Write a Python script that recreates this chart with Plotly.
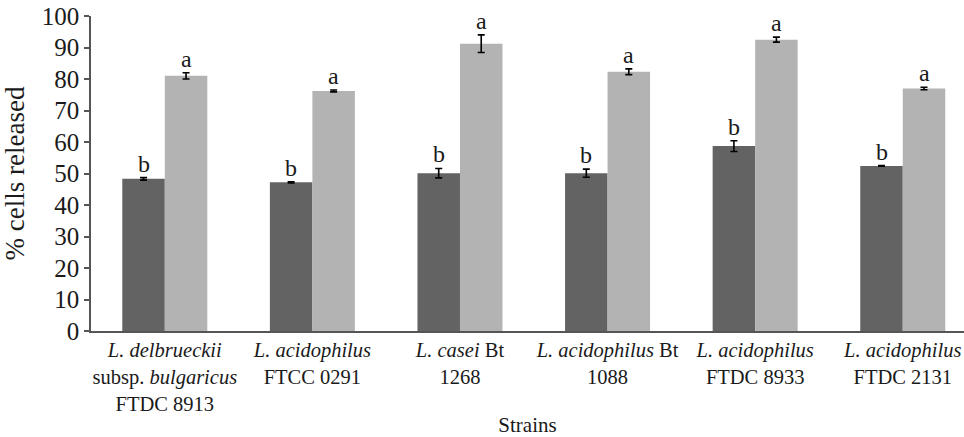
import plotly.graph_objects as go

strains = [
    "<i>L. delbrueckii</i><br>subsp. <i>bulgaricus</i><br>FTDC 8913",
    "<i>L. acidophilus</i><br>FTCC 0291",
    "<i>L. casei</i> Bt<br>1268",
    "<i>L. acidophilus</i> Bt<br>1088",
    "<i>L. acidophilus</i><br>FTDC 8933",
    "<i>L. acidophilus</i><br>FTDC 2131",
]
dark_vals = [48.3, 47.2, 50.1, 50.1, 58.7, 52.4]
dark_err = [0.4, 0.2, 1.5, 1.3, 1.7, 0.1]
dark_lbl = ["b"] * 6
light_vals = [81.0, 76.2, 91.2, 82.3, 92.5, 77.0]
light_err = [1.0, 0.3, 2.8, 0.9, 0.8, 0.4]
light_lbl = ["a"] * 6

FONT = "Times New Roman, Liberation Serif, Tinos, DejaVu Serif, serif"
TXT = "#1a1a1a"

fig = go.Figure()
fig.add_trace(go.Bar(x=strains, y=dark_vals, marker_color="#636363", marker_line_width=0,
                     error_y=dict(type="data", array=dark_err, color="black", thickness=1.6, width=3.5),
                     name="dark"))
fig.add_trace(go.Bar(x=strains, y=light_vals, marker_color="#b3b3b3", marker_line_width=0,
                     error_y=dict(type="data", array=light_err, color="black", thickness=1.6, width=3.5),
                     name="light"))

bw = 0.576 / 2
for i in range(len(strains)):
    fig.add_annotation(x=i - bw / 2, y=dark_vals[i] + dark_err[i], text=dark_lbl[i],
                       showarrow=False, yanchor="bottom", xref="x", yref="y",
                       font=dict(family=FONT, size=24, color=TXT), yshift=-1)
    fig.add_annotation(x=i + bw / 2, y=light_vals[i] + light_err[i], text=light_lbl[i],
                       showarrow=False, yanchor="bottom", xref="x", yref="y",
                       font=dict(family=FONT, size=24, color=TXT), yshift=-1)

fig.update_layout(
    width=964, height=437,
    margin=dict(l=91, r=0, t=16, b=106),
    plot_bgcolor="white", paper_bgcolor="white",
    barmode="group", bargap=0.424, bargroupgap=0,
    showlegend=False,
    font=dict(family=FONT, size=20, color=TXT),
)
fig.update_xaxes(
    type="category", range=[-0.5, 5.415], automargin=False,
    showline=True, linecolor="#555", linewidth=1.5, ticks="", showgrid=False,
    tickfont=dict(family=FONT, size=20.5, color=TXT),
    title=dict(text="Strains", font=dict(family=FONT, size=21, color=TXT), standoff=9),
)
fig.update_yaxes(
    range=[0, 100], dtick=10, showgrid=False, zeroline=False, automargin=False,
    showline=True, linecolor="#555", linewidth=1.5,
    ticks="outside", ticklen=5, tickcolor="#555", tickwidth=1.5,
    tickfont=dict(family=FONT, size=25, color=TXT),
    title=dict(text="% cells released", font=dict(family=FONT, size=27, color=TXT), standoff=9),
)

fig.write_html("out.html", config={"displayModeBar": False},
               post_script="document.body.style.margin='0';")
